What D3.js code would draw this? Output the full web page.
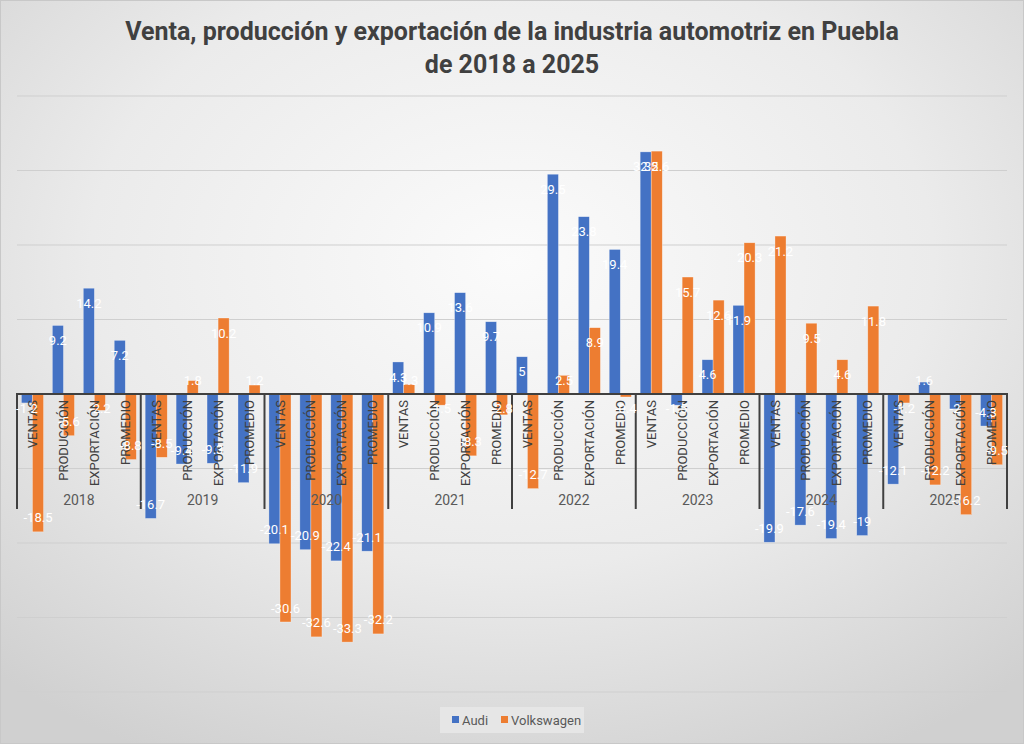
<!DOCTYPE html>
<html>
<head>
<meta charset="utf-8">
<script src="https://cdn.jsdelivr.net/npm/d3@7"></script>
<style>
	body { margin: 0; }
	svg { display: block; }
</style>
</head>
<body>
<div id="chart"></div>
<script>
'use strict';

let years = ['2018', '2019', '2020', '2021', '2022', '2023', '2024', '2025'];
let cats = ['VENTAS', 'PRODUCCIÓN', 'EXPORTACIÓN', 'PROMEDIO'];
let series = ['Audi', 'Volkswagen'];
let colors = ['#4472C4', '#ED7D31'];

// one row per year, values in cats order
let audi = [
	[-1.2, 9.2, 14.2, 7.2],
	[-16.7, -9.4, -9.3, -11.9],
	[-20.1, -20.9, -22.4, -21.1],
	[4.3, 10.9, 13.6, 9.7],
	[5, 29.5, 23.8, 19.4],
	[32.5, -1.5, 4.6, 11.9],
	[-19.9, -17.6, -19.4, -19],
	[-12.1, 1.6, -2, -4.3],
];
let vw = [
	[-18.5, -5.6, -2.2, -8.8],
	[-8.5, 1.8, 10.2, 1.2],
	[-30.6, -32.6, -33.3, -32.2],
	[1.3, -1.5, -8.3, -2.8],
	[-12.7, 2.5, 8.9, -0.4],
	[32.6, 15.7, 12.6, 20.3],
	[21.2, 9.5, 4.6, 11.8],
	[-1.2, -12.2, -16.2, -9.5],
];
let gridTicks = [-40, -30, -20, -10, 10, 20, 30, 40];

let W = 1024, H = 744;
let font = '"Roboto", "Noto Sans", sans-serif';

let svg = d3.select('#chart').append('svg')
	.attr('width', W)
	.attr('height', H)
	.style('font-family', font)
	;

let defs = svg.append('defs');
let grad = defs.append('radialGradient')
	.attr('id', 'bg').attr('cx', '50%').attr('cy', '35%').attr('r', '75%')
	;
grad.append('stop').attr('offset', '0%').attr('stop-color', '#fbfbfb');
grad.append('stop').attr('offset', '55%').attr('stop-color', '#ebebeb');
grad.append('stop').attr('offset', '100%').attr('stop-color', '#d0d0d0');

svg.append('rect')
	.attr('x', 0.5).attr('y', 0.5)
	.attr('width', W - 1).attr('height', H - 1)
	.attr('fill', 'url(#bg)')
	.attr('stroke', '#c8c8c8')
	;

// title
let title = svg.append('text')
	.attr('text-anchor', 'middle')
	.attr('fill', '#404040')
	.attr('font-weight', 'bold')
	.attr('font-size', 25)
	;
title.append('tspan').attr('x', 512).attr('y', 40).text('Venta, producción y exportación de la industria automotriz en Puebla');
title.append('tspan').attr('x', 512).attr('y', 73).text('de 2018 a 2025');

let y = d3.scaleLinear().domain([-40, 40]).range([692, 96]);
let xYear = d3.scaleBand().domain(years).range([17, 1007]);
let xCat = d3.scaleBand().domain(cats).range([0, xYear.bandwidth()]);
let xSer = d3.scaleBand().domain(series).range([0, xCat.bandwidth()]).paddingOuter(0.4);

// gridlines
svg.append('g').selectAll('line')
	.data(gridTicks)
	.join('line')
		.attr('x1', 17).attr('x2', 1007)
		.attr('y1', d => y(d)).attr('y2', d => y(d))
		.attr('stroke', '#cfcfcf')
		.attr('stroke-width', 1)
	;

let rows = [];
for (let i=0 ; i<years.length ; ++i) {
	for (let j=0 ; j<cats.length ; ++j) {
		rows.push({year: years[i], cat: cats[j], s: 0, v: audi[i][j]});
		rows.push({year: years[i], cat: cats[j], s: 1, v: vw[i][j]});
	}
}
let bx = d => xYear(d.year) + xCat(d.cat) + xSer(series[d.s]);

svg.append('g').selectAll('rect')
	.data(rows)
	.join('rect')
		.attr('x', bx)
		.attr('width', xSer.bandwidth())
		.attr('y', d => y(Math.max(0, d.v)))
		.attr('height', d => Math.abs(y(d.v) - y(0)))
		.attr('fill', d => colors[d.s])
		.attr('stroke', 'rgba(255,255,255,0.5)')
		.attr('stroke-width', 0.6)
	;

// axis line and year separators
let y0 = y(0);
let axis = svg.append('g').attr('stroke', '#404040').attr('stroke-width', 2);
axis.append('line').attr('x1', 16).attr('x2', 1008).attr('y1', y0).attr('y2', y0);
let seps = years.map(d => xYear(d)).concat([xYear.range()[1]]);
axis.selectAll('line.sep')
	.data(seps)
	.join('line')
		.classed('sep', true)
		.attr('x1', d => d).attr('x2', d => d)
		.attr('y1', y0).attr('y2', 509)
	;

// category labels (rotated)
let catLabels = [];
for (let yr of years) {
	for (let c of cats) {
		catLabels.push({year: yr, cat: c});
	}
}
svg.append('g').selectAll('text')
	.data(catLabels)
	.join('text')
		.attr('transform', d => 'translate(' + (xYear(d.year) + xCat(d.cat) + xCat.bandwidth()/2) + ',' + (y0 + 6) + ') rotate(-90)')
		.attr('text-anchor', 'end')
		.attr('dy', '0.35em')
		.attr('font-size', 13)
		.attr('fill', '#404040')
		.text(d => d.cat)
	;

svg.append('g').selectAll('text')
	.data(years)
	.join('text')
		.attr('x', d => xYear(d) + xYear.bandwidth()/2)
		.attr('y', 505)
		.attr('text-anchor', 'middle')
		.attr('font-size', 14)
		.attr('fill', '#595959')
		.text(d => d)
	;

// data labels, inside end
svg.append('g').selectAll('text')
	.data(rows)
	.join('text')
		.attr('x', d => bx(d) + xSer.bandwidth()/2)
		.attr('y', d => d.v >= 0 ? Math.min(y(d.v) + 15, y0 - 14) : Math.max(y(d.v) - 14, y0 + 14))
		.attr('dy', '0.35em')
		.attr('text-anchor', 'middle')
		.attr('font-size', 13)
		.attr('fill', '#ffffff')
		.text(d => d.v)
	;

// legend
let leg = svg.append('g');
leg.append('rect')
	.attr('x', 440).attr('y', 707).attr('width', 144).attr('height', 26)
	.attr('fill', '#e6e6e6')
	;
let legX = [452, 501];
series.forEach((s, i) => {
	leg.append('rect')
		.attr('x', legX[i]).attr('y', 716).attr('width', 7).attr('height', 7)
		.attr('fill', colors[i])
		;
	leg.append('text')
		.attr('x', legX[i] + 10).attr('y', 720)
		.attr('dy', '0.35em')
		.attr('font-size', 13)
		.attr('fill', '#595959')
		.text(s)
		;
});
</script>
</body>
</html>
